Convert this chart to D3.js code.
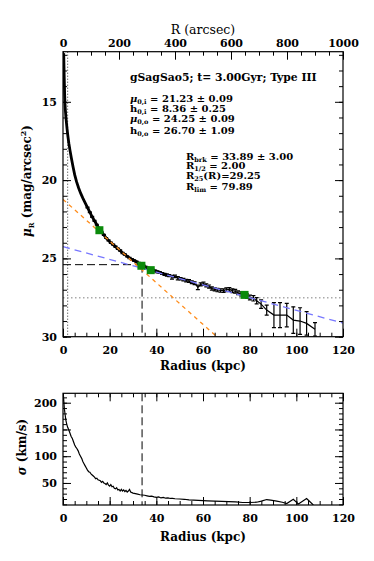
<!DOCTYPE html>
<html>
<head>
<meta charset="utf-8">
<script src="https://cdn.jsdelivr.net/npm/d3@7"></script>
<style>
  body { margin: 0; background: #fff; }
  svg { display: block; }
  text { font-family: "DejaVu Serif", serif; fill: #000; }
</style>
</head>
<body>
<div id="chart"></div>
<script>
// surface brightness profile (kpc, mag/arcsec^2, error)
const profR = [0.3, 0.4, 0.5, 0.6, 0.7, 0.85, 1.0, 1.2, 1.45, 1.75, 2.1, 2.5, 3.0, 3.6, 4.3, 5.0, 5.8, 6.7, 7.6, 8.5,
  9.5, 10.5, 11.5, 12.5, 13.5, 14.5, 15.5, 16.5, 17.5, 18.5, 19.5, 20.5, 21.5, 22.5, 23.5, 24.5, 25.5, 26.5, 27.5, 28.5,
  29.5, 30.5, 31.5, 32.5, 33.5, 34.5, 35.5, 36.5, 37.5, 38.5, 39.5, 40.5, 41.5, 42.5, 43.5, 44.5, 45.5, 46.7, 48.0, 49.2,
  50.4, 51.6, 52.8, 54.0, 55.2, 56.4, 57.8, 59.0, 60.2, 61.4, 62.6, 63.8, 65.0, 66.2, 67.5, 68.8, 70.0, 71.3, 72.6, 73.8,
  75.0, 76.3, 77.6, 78.8, 80.1, 81.6, 83.0, 84.9, 87.3, 90.4, 93.0, 95.9, 98.7, 101.6, 104.4, 108.0]
const profMu = [11.9, 12.6, 13.3, 13.9, 14.5, 15.1, 15.5, 15.9, 16.3, 16.75, 17.2, 17.65, 18.1, 18.6, 19.15, 19.65, 20.1, 20.5, 20.85, 21.15,
  21.45, 21.75, 22.05, 22.35, 22.6, 22.85, 23.1, 23.3, 23.5, 23.7, 23.85, 24.0, 24.12, 24.25, 24.38, 24.5, 24.65, 24.75, 24.87, 24.97,
  25.06, 25.14, 25.22, 25.3, 25.4, 25.48, 25.55, 25.62, 25.7, 25.76, 25.8, 25.86, 25.9, 25.96, 26.02, 26.06, 26.1, 26.2, 26.15, 26.27,
  26.3, 26.36, 26.42, 26.45, 26.52, 26.58, 26.85, 26.66, 26.62, 26.72, 26.8, 26.92, 26.98, 27.02, 27.05, 27.06, 27.0, 26.98, 27.06, 27.1,
  27.2, 27.27, 27.33, 27.4, 27.5, 27.55, 27.71, 27.92, 28.3, 28.62, 28.62, 28.62, 28.94, 29.0, 29.15, 29.53]
const profErr = [0.02, 0.02, 0.02, 0.02, 0.02, 0.02, 0.02, 0.02, 0.02, 0.02, 0.02, 0.02, 0.02, 0.02, 0.02, 0.02, 0.02, 0.02, 0.02, 0.02,
  0.03, 0.03, 0.03, 0.03, 0.03, 0.03, 0.03, 0.03, 0.03, 0.03, 0.04, 0.04, 0.04, 0.04, 0.04, 0.04, 0.04, 0.04, 0.04, 0.04,
  0.05, 0.05, 0.05, 0.05, 0.05, 0.05, 0.05, 0.05, 0.05, 0.06, 0.06, 0.06, 0.06, 0.06, 0.07, 0.07, 0.07, 0.12, 0.08, 0.1,
  0.08, 0.08, 0.08, 0.09, 0.09, 0.09, 0.15, 0.1, 0.1, 0.1, 0.1, 0.1, 0.1, 0.11, 0.11, 0.11, 0.12, 0.12, 0.12, 0.12,
  0.12, 0.13, 0.13, 0.14, 0.15, 0.17, 0.2, 0.27, 0.32, 0.8, 0.8, 0.75, 0.85, 0.85, 0.75, 0.43]

// marked points (green squares)
const markR = [15.6, 33.6, 37.6, 77.8]
const markMu = [23.2, 25.47, 25.75, 27.33]

// fitted exponential discs, endpoints (kpc, mag)
const innerFit = [[0, 21.23], [65.9, 30.0]]
const outerFit = [[0, 24.25], [120, 29.13]]

// break, half-light radius, limiting surface brightness
const breakR = 33.89
const breakMu = 25.4
const halfR = 2.0
const limMu = 27.52

// velocity dispersion profile (kpc, km/s)
const sigR = [0.2, 0.4, 0.6, 0.9, 1.2, 1.6, 2.0, 2.5, 3.0, 3.5, 4.0, 4.5, 5.0, 5.5, 6.0, 6.5, 7.0, 7.5, 8.0, 8.5,
  9.0, 9.5, 10.0, 10.5, 11.0, 11.5, 12.0, 12.5, 13.0, 13.5, 14.0, 14.5, 15.0, 15.5, 16.0, 16.5, 17.0, 17.5, 18.0, 18.5,
  19.0, 19.5, 20.0, 20.5, 21.0, 21.5, 22.0, 22.5, 23.0, 23.5, 24.0, 24.5, 25.0, 25.5, 26.0, 26.5, 27.0, 27.5, 28.0, 28.5,
  29.0, 30.0, 31.0, 32.0, 33.0, 34.0, 35.0, 36.0, 37.0, 38.0, 39.0, 40.0, 41.0, 42.0, 43.0, 44.0, 45.0, 46.0, 47.0, 48.0,
  50.0, 52.0, 54.0, 56.0, 58.0, 60.0, 62.0, 65.0, 68.0, 71.0, 74.0, 77.0, 80.0, 83.0, 85.0, 87.3, 89.0, 91.6, 94.0, 95.9,
  98.7, 100.9, 104.4, 107.3]
const sigV = [212, 200, 188, 178, 168, 160, 154, 149, 143, 137, 133, 127, 121, 117, 114, 110, 104, 100, 96, 90,
  86, 82, 78, 74, 71, 70, 67, 65, 63, 61, 58, 59, 56, 55, 54, 51, 53, 50, 49, 47,
  50, 46, 44, 47, 43, 44, 40, 39, 41, 37, 38, 35, 38, 35, 37, 34, 36, 33, 35, 38,
  33, 31, 30, 29, 28, 27.5, 27, 26, 25, 25.5, 24, 23, 24, 22, 23, 21.5, 22, 21, 21, 20.5,
  20, 19.5, 18.5, 18, 17.5, 17, 16.5, 16, 15.5, 15, 14.5, 13.5, 13.5, 14, 16, 19, 18, 16, 14, 11.5,
  19.5, 10.5, 21, 8.8]

// axes ticks
const kpcMajor = [0, 20, 40, 60, 80, 100, 120]
const kpcMinor = d3.range(0, 121, 5)
const arcMajor = [0, 200, 400, 600, 800, 1000]
const arcMinor = d3.range(0, 1001, 50)
const muMajor = [15, 20, 25, 30]
const muMinor = d3.range(12, 31, 1)
const sigMajor = [50, 100, 150, 200]
const sigMinor = d3.range(10, 218, 10)

const W = 374, H = 561
const left = 63, right = 343
const top1 = 51.7, bot1 = 336.7
const top2 = 393.3, bot2 = 505

const svg = d3.select("#chart").append("svg")
  .attr("width", W).attr("height", H)
  .attr("viewBox", `0 0 ${W} ${H}`)

svg.append("rect").attr("width", W).attr("height", H).attr("fill", "#fff")

const x = d3.scaleLinear().domain([0, 120]).range([left, right])
const xArc = d3.scaleLinear().domain([0, 1000]).range([left, right])
const y = d3.scaleLinear().domain([11.8, 30]).range([top1, bot1])
const y2 = d3.scaleLinear().domain([8.8, 217.6]).range([bot2, top2])

const clip1 = svg.append("clipPath").attr("id", "clip1")
clip1.append("rect").attr("x", left).attr("y", top1).attr("width", right - left).attr("height", bot1 - top1)
const clip2 = svg.append("clipPath").attr("id", "clip2")
clip2.append("rect").attr("x", left).attr("y", top2).attr("width", right - left).attr("height", bot2 - top2)

// IDL style frame: inward ticks on all four sides
function frame(g, axisFn, scale, major, minor, pos, len, labels, pad) {
  const a = g.append("g").attr("transform", pos)
    .call(axisFn(scale).tickValues(minor).tickSize(-len / 2).tickSizeOuter(0).tickFormat(""))
  const b = g.append("g").attr("transform", pos)
    .call(axisFn(scale).tickValues(major).tickSize(-len).tickSizeOuter(0).tickPadding(pad)
      .tickFormat(labels ? d3.format("d") : ""))
  a.select(".domain").remove()
  b.select(".domain").remove()
  g.selectAll(".tick line").attr("stroke", "#000").attr("stroke-width", 1)
  b.selectAll(".tick text").attr("font-family", "DejaVu Serif").attr("font-weight", "bold")
    .attr("font-size", 11).attr("fill", "#000")
  return b
}

// ---------- top panel ----------
const p1 = svg.append("g")
const d1 = p1.append("g").attr("clip-path", "url(#clip1)")

// half-light radius (dotted) and limiting magnitude (grey dotted)
d1.append("line")
  .attr("x1", x(halfR)).attr("x2", x(halfR)).attr("y1", top1).attr("y2", bot1)
  .attr("stroke", "#333").attr("stroke-width", 1).attr("stroke-dasharray", "1,2")
d1.append("line")
  .attr("x1", left).attr("x2", right).attr("y1", y(limMu)).attr("y2", y(limMu))
  .attr("stroke", "#aaa").attr("stroke-width", 1.5).attr("stroke-dasharray", "1.5,2.5")

// break lines
d1.append("line")
  .attr("x1", x(0)).attr("x2", x(breakR)).attr("y1", y(breakMu)).attr("y2", y(breakMu))
  .attr("stroke", "#000").attr("stroke-width", 1).attr("stroke-dasharray", "8,4")
d1.append("line")
  .attr("x1", x(breakR)).attr("x2", x(breakR)).attr("y1", y(breakMu)).attr("y2", bot1)
  .attr("stroke", "#000").attr("stroke-width", 1).attr("stroke-dasharray", "8,4")

const line = d3.line().x((d) => x(d[0])).y((d) => y(d[1]))

// profile
const prof = profR.map((r, i) => [r, profMu[i], profErr[i]])
d1.append("path").datum(prof)
  .attr("d", line).attr("fill", "none").attr("stroke", "#000").attr("stroke-width", 1.2)
d1.append("path").datum(prof.filter((d) => d[0] <= 45))
  .attr("d", line).attr("fill", "none").attr("stroke", "#000").attr("stroke-width", 2.8)

const eb = d1.selectAll(".eb").data(prof).enter().append("g").attr("class", "eb")
eb.append("line")
  .attr("x1", (d) => x(d[0])).attr("x2", (d) => x(d[0]))
  .attr("y1", (d) => y(d[1] - d[2])).attr("y2", (d) => y(d[1] + d[2]))
  .attr("stroke", "#000").attr("stroke-width", 1.2)
eb.filter((d) => d[0] > 10).append("line")
  .attr("x1", (d) => x(d[0]) - 2).attr("x2", (d) => x(d[0]) + 2)
  .attr("y1", (d) => y(d[1] - d[2])).attr("y2", (d) => y(d[1] - d[2]))
  .attr("stroke", "#000").attr("stroke-width", 1.2)
eb.filter((d) => d[0] > 10).append("line")
  .attr("x1", (d) => x(d[0]) - 2).attr("x2", (d) => x(d[0]) + 2)
  .attr("y1", (d) => y(d[1] + d[2])).attr("y2", (d) => y(d[1] + d[2]))
  .attr("stroke", "#000").attr("stroke-width", 1.2)

// fits
d1.append("path").datum(innerFit)
  .attr("d", line).attr("fill", "none").attr("stroke", "#ff8c1a")
  .attr("stroke-width", 1.3).attr("stroke-dasharray", "4,4")
d1.append("path").datum(outerFit)
  .attr("d", line).attr("fill", "none").attr("stroke", "#7878ff")
  .attr("stroke-width", 1.3).attr("stroke-dasharray", "7,5")

// marked points
d1.selectAll(".mark").data(markR).enter().append("rect")
  .attr("x", (d) => x(d) - 4).attr("y", (d, i) => y(markMu[i]) - 4)
  .attr("width", 8).attr("height", 8).attr("fill", "#0a8a0a")

// frame
p1.append("rect").attr("x", left).attr("y", top1).attr("width", right - left).attr("height", bot1 - top1)
  .attr("fill", "none").attr("stroke", "#000").attr("stroke-width", 1.2)
frame(p1, d3.axisBottom, x, kpcMajor, kpcMinor, `translate(0,${bot1})`, 8, true, 10)
frame(p1, d3.axisTop, xArc, arcMajor, arcMinor, `translate(0,${top1})`, 8, true, 5)
frame(p1, d3.axisLeft, y, muMajor, muMinor, `translate(${left},0)`, 8, true, 6)
frame(p1, d3.axisRight, y, muMajor, muMinor, `translate(${right},0)`, 8, false, 6)

// axis titles
svg.append("text").attr("x", 203).attr("y", 34).attr("text-anchor", "middle")
  .attr("font-size", 12.5).text("R (arcsec)")
svg.append("text").attr("x", 203).attr("y", 370).attr("text-anchor", "middle")
  .attr("font-size", 12).attr("font-weight", "bold").text("Radius (kpc)")
const yl = svg.append("text").attr("transform", "translate(31,181) rotate(-90)")
  .attr("text-anchor", "middle").attr("font-size", 12).attr("font-weight", "bold")
yl.append("tspan").attr("font-style", "italic").text("μ")
yl.append("tspan").attr("font-size", 7).attr("dy", 3).text("R")
yl.append("tspan").attr("dy", -3).text(" (mag/arcsec")
yl.append("tspan").attr("font-size", 8).attr("dy", -5).text("2")
yl.append("tspan").attr("dy", 5).text(")")

// annotations
const ann = svg.append("g").attr("font-size", 10).attr("font-weight", "bold")
ann.append("text").attr("x", 130).attr("y", 81).attr("font-size", 10.8).text("gSagSao5; t= 3.00Gyr; Type III")

function sub(g, xx, yy, main, subTxt, rest, italic) {
  const t = g.append("text").attr("x", xx).attr("y", yy)
  t.append("tspan").attr("font-style", italic ? "italic" : "normal").text(main)
  t.append("tspan").attr("font-size", 6.5).attr("dy", 2).text(subTxt)
  t.append("tspan").attr("dy", -2).text(rest)
}
sub(ann, 130, 101.5, "μ", "0,i", " = 21.23 ± 0.09", true)
sub(ann, 130, 111.5, "h", "0,i", " = 8.36 ± 0.25", false)
sub(ann, 130, 122, "μ", "0,o", " = 24.25 ± 0.09", true)
sub(ann, 130, 133.5, "h", "0,o", " = 26.70 ± 1.09", false)
sub(ann, 186, 159.5, "R", "brk", " = 33.89 ± 3.00", false)
sub(ann, 186, 169, "R", "1/2", " = 2.00", false)
sub(ann, 186, 178.5, "R", "25", "(R)=29.25", false)
sub(ann, 186, 190, "R", "lim", " = 79.89", false)

// ---------- bottom panel ----------
const p2 = svg.append("g")
const d2 = p2.append("g").attr("clip-path", "url(#clip2)")

d2.append("line")
  .attr("x1", x(breakR)).attr("x2", x(breakR)).attr("y1", top2).attr("y2", bot2)
  .attr("stroke", "#000").attr("stroke-width", 1).attr("stroke-dasharray", "8,4")

const line2 = d3.line().x((d, i) => x(d)).y((d, i) => y2(sigV[i]))
d2.append("path").datum(sigR)
  .attr("d", line2).attr("fill", "none").attr("stroke", "#000").attr("stroke-width", 1.2)

p2.append("rect").attr("x", left).attr("y", top2).attr("width", right - left).attr("height", bot2 - top2)
  .attr("fill", "none").attr("stroke", "#000").attr("stroke-width", 1.2)
frame(p2, d3.axisBottom, x, kpcMajor, kpcMinor, `translate(0,${bot2})`, 8, true, 9)
frame(p2, d3.axisTop, x, kpcMajor, kpcMinor, `translate(0,${top2})`, 8, false, 5)
frame(p2, d3.axisLeft, y2, sigMajor, sigMinor, `translate(${left},0)`, 8, true, 6)
frame(p2, d3.axisRight, y2, sigMajor, sigMinor, `translate(${right},0)`, 8, false, 6)

svg.append("text").attr("x", 203).attr("y", 541).attr("text-anchor", "middle")
  .attr("font-size", 12).attr("font-weight", "bold").text("Radius (kpc)")
const yl2 = svg.append("text").attr("transform", "translate(26,447) rotate(-90)")
  .attr("text-anchor", "middle").attr("font-size", 12).attr("font-weight", "bold")
yl2.append("tspan").attr("font-style", "italic").text("σ")
yl2.append("tspan").text(" (km/s)")
</script>
</body>
</html>
